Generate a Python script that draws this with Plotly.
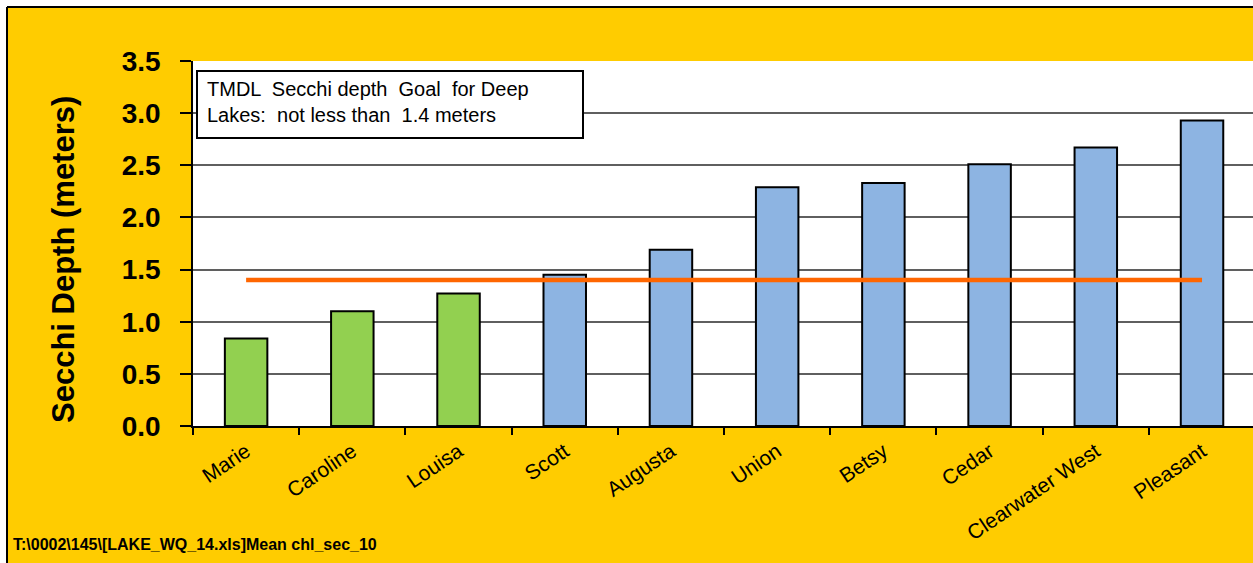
import plotly.graph_objects as go

# Mean Secchi depth by lake (meters)
lakes = ["Marie", "Caroline", "Louisa", "Scott", "Augusta", "Union",
         "Betsy", "Cedar", "Clearwater West", "Pleasant"]
secchi = [0.84, 1.10, 1.27, 1.45, 1.69, 2.29, 2.33, 2.51, 2.67, 2.93]

# TMDL goal for deep lakes (meters)
goal = 1.4

y_ticks = [0.0, 0.5, 1.0, 1.5, 2.0, 2.5, 3.0, 3.5]

W, H = 1253, 563
ML, MR, MT, MB = 193, 0, 61, 137
PW, PH = W - ML - MR, H - MT - MB


def px(x):
    """pixel x -> paper x"""
    return (x - ML) / PW


def py(y):
    """pixel y -> paper y"""
    return (H - MB - y) / PH


GREEN = "#92D050"
BLUE = "#8DB4E2"
YELLOW = "#FFCC00"
FONT = "Liberation Sans, Arial, sans-serif"

bar_colors = [GREEN if v < goal else BLUE for v in secchi]

fig = go.Figure()
fig.add_trace(go.Bar(
    x=lakes, y=secchi, width=0.4,
    marker=dict(color=bar_colors, line=dict(color="black", width=2)),
    hoverinfo="x+y",
))
fig.add_trace(go.Scatter(
    x=lakes, y=[goal] * len(lakes), mode="lines",
    line=dict(color="#FF6600", width=4.5),
    hoverinfo="skip",
))

shapes = [
    # white frame outside the chart border
    dict(type="rect", xref="paper", yref="paper", x0=px(-5), x1=px(W + 5),
         y0=py(7), y1=py(-5), fillcolor="white", line=dict(width=0), layer="above"),
    dict(type="rect", xref="paper", yref="paper", x0=px(-5), x1=px(7),
         y0=py(H + 5), y1=py(-5), fillcolor="white", line=dict(width=0), layer="above"),
    # chart border
    dict(type="line", xref="paper", yref="paper", x0=px(7), x1=px(W + 5),
         y0=py(7), y1=py(7), line=dict(color="black", width=2), layer="above"),
    dict(type="line", xref="paper", yref="paper", x0=px(7), x1=px(7),
         y0=py(7), y1=py(H + 5), line=dict(color="black", width=2), layer="above"),
    # goal text box
    dict(type="rect", xref="paper", yref="paper", x0=px(197), x1=px(583),
         y0=py(138), y1=py(71), fillcolor="white",
         line=dict(color="black", width=2), layer="above"),
]

nb = "\u00a0"
annotations = [
    dict(xref="paper", yref="paper", x=px(205), y=py(102), xanchor="left",
         yanchor="middle", align="left", showarrow=False,
         text=f"TMDL {nb}Secchi depth {nb}Goal {nb}for Deep<br>"
              f"Lakes: {nb}not less than {nb}1.4 meters",
         font=dict(family=FONT, size=20, color="black")),
    dict(xref="paper", yref="paper", x=px(63), y=py(260), xanchor="center",
         yanchor="middle", textangle=-90, showarrow=False,
         text="Secchi Depth (meters)",
         font=dict(family=FONT, size=31, color="black", weight="bold")),
    dict(xref="paper", yref="paper", x=px(11), y=py(544), xanchor="left",
         yanchor="middle", showarrow=False,
         text="T:\\0002\\145\\[LAKE_WQ_14.xls]Mean chl_sec_10",
         font=dict(family="Liberation Sans Narrow, Arial Narrow, sans-serif",
                   size=16, color="black", weight="bold")),
]

fig.update_layout(
    width=W, height=H,
    margin=dict(l=ML, r=MR, t=MT, b=MB, autoexpand=False),
    paper_bgcolor=YELLOW, plot_bgcolor="white",
    showlegend=False, bargap=0.6,
    font=dict(family=FONT, color="black"),
    shapes=shapes, annotations=annotations,
)
fig.update_xaxes(
    type="category", range=[-0.5, 9.48],
    showline=True, linecolor="black", linewidth=2,
    ticks="outside", tickson="boundaries", ticklen=7, tickwidth=1.5,
    tickcolor="black", tickangle=-34, ticklabelstandoff=3,
    tickfont=dict(family=FONT, size=21, color="black"),
    showgrid=False, zeroline=False,
)
fig.update_yaxes(
    range=[0, 3.5], tickvals=y_ticks, tickformat=".1f",
    showgrid=True, gridcolor="#5f5f5f", gridwidth=1.5,
    showline=True, linecolor="black", linewidth=1.5,
    ticks="outside", ticklen=11, tickwidth=1.5, tickcolor="black",
    ticklabelstandoff=14,
    tickfont=dict(family=FONT, size=28, color="black", weight="bold"),
    zeroline=False,
)

fig.write_html("out.html")
